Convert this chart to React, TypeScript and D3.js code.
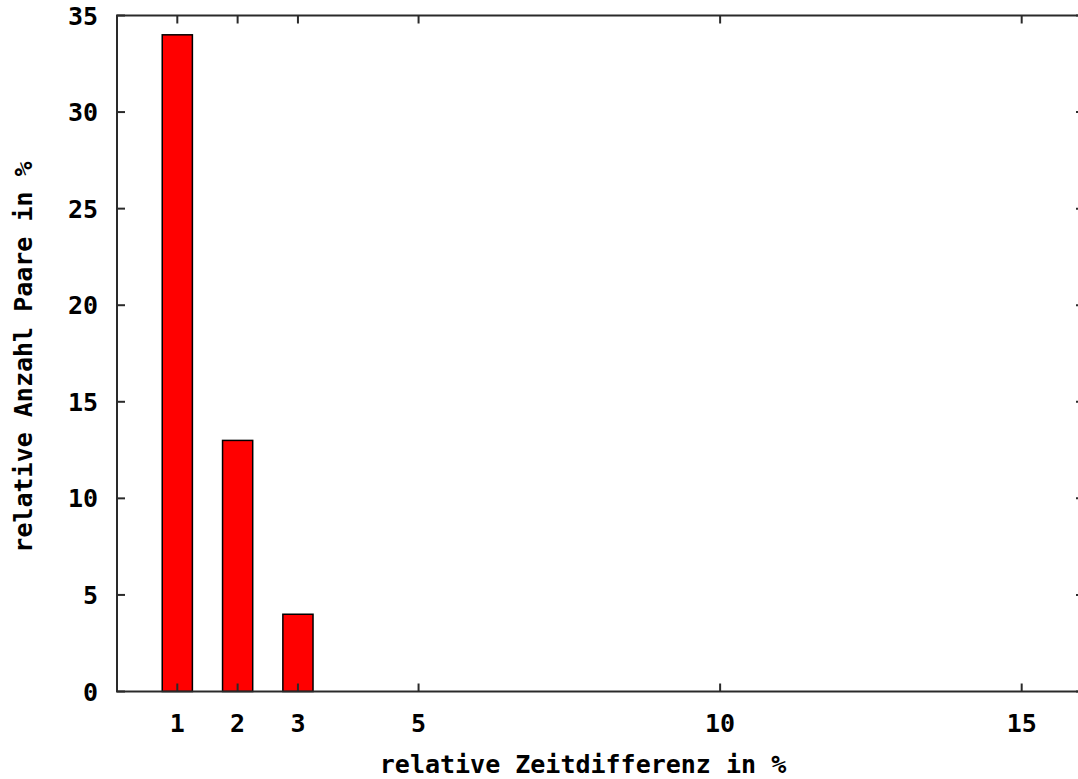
import React from "react";
import * as d3 from "d3";

// Relative time difference (%) and share of pairs (%)
const categories: number[] = [1, 2, 3];
const shares: number[] = [34, 13, 4];
const xTicks: number[] = [1, 2, 3, 5, 10, 15];
const yTicks: number[] = [0, 5, 10, 15, 20, 25, 30, 35];
const xTitle = "relative Zeitdifferenz in %";
const yTitle = "relative Anzahl Paare in %";

const W = 1078;
const H = 779;
const left = 117;
const right = 1082;
const top = 15.5;
const bottom = 691.5;
const tickLen = 8;
const barWidth = 0.5;
const font = "'DejaVu Sans Mono', monospace";
const axisColor = "#2a2a2a";

export default function App() {
  const x = d3.scaleLinear().domain([0, 16]).range([left, right]);
  const y = d3.scaleLinear().domain([0, 35]).range([bottom, top]);

  return (
    <svg
      width={W}
      height={H}
      style={{ position: "absolute", left: 0, top: 0, background: "#fff" }}
      fontFamily={font}
      fontWeight="bold"
    >
      <rect x={0} y={0} width={W} height={H} fill="#fff" />

      {categories.map((c, i) => (
        <rect
          key={c}
          x={x(c - barWidth / 2)}
          y={y(shares[i])}
          width={x(c + barWidth / 2) - x(c - barWidth / 2)}
          height={y(0) - y(shares[i])}
          fill="#ff0000"
          stroke="#000"
          strokeWidth={1.5}
        />
      ))}

      {/* frame */}
      <rect
        x={left}
        y={top}
        width={right - left}
        height={bottom - top}
        fill="none"
        stroke={axisColor}
        strokeWidth={2}
      />

      {/* x ticks, mirrored on top */}
      {xTicks.map((t) => (
        <g key={"x" + t}>
          <line x1={x(t)} x2={x(t)} y1={bottom} y2={bottom - tickLen} stroke={axisColor} strokeWidth={2} />
          <line x1={x(t)} x2={x(t)} y1={top} y2={top + tickLen} stroke={axisColor} strokeWidth={2} />
          <text x={x(t)} y={732} textAnchor="middle" fontSize={25} fill="#000">
            {t}
          </text>
        </g>
      ))}

      {/* y ticks, mirrored on right */}
      {yTicks.map((t) => (
        <g key={"y" + t}>
          <line x1={left} x2={left + tickLen} y1={y(t)} y2={y(t)} stroke={axisColor} strokeWidth={2} />
          <line x1={right} x2={right - 6} y1={y(t)} y2={y(t)} stroke={axisColor} strokeWidth={2} />
          <text x={98} y={y(t) + 9} textAnchor="end" fontSize={25} fill="#000">
            {t}
          </text>
        </g>
      ))}

      <text x={583} y={773} textAnchor="middle" fontSize={25} fill="#000">
        {xTitle}
      </text>
      <text
        transform={`translate(32, 357) rotate(-90)`}
        textAnchor="middle"
        fontSize={25}
        fill="#000"
      >
        {yTitle}
      </text>
    </svg>
  );
}
